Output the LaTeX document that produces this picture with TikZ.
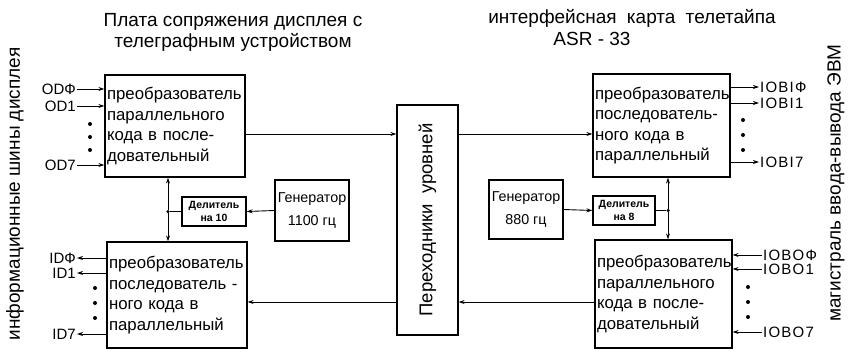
\documentclass[tikz,border=0pt]{standalone}
\usepackage{fontspec}
\setmainfont{Liberation Sans}
\usetikzlibrary{arrows.meta}
\begin{document}
\begin{tikzpicture}[x=1pt,y=-1pt,
  blk/.style={draw,line width=1.2pt,inner sep=1pt},
  conv/.style={blk,align=left,font=\fontsize{16.8}{20.5}\selectfont},
  gen/.style={blk,align=center,font=\fontsize{14.3}{23}\selectfont},
  divb/.style={blk,align=center,font=\bfseries\fontsize{10.5}{13}\selectfont},
  conn/.style={line width=0.9pt},
  arr/.style={conn,-{Stealth[length=6pt,width=4pt]}},
  bdot/.style={circle,fill,inner sep=0pt,minimum size=4pt},
  jdot/.style={circle,fill,inner sep=0pt,minimum size=3.5pt},
  sig/.style={font=\fontsize{15}{15}\selectfont,inner sep=1pt},
  sigr/.style={font=\fontsize{15}{15}\selectfont\addfontfeatures{LetterSpace=8},inner sep=1pt},
  ttl/.style={font=\fontsize{19}{21}\selectfont,align=center,inner sep=0pt},
  vtxt/.style={rotate=90,font=\fontsize{19}{19}\selectfont,inner sep=0pt}]
\useasboundingbox (0,0) rectangle (852,351);

% titles
\node[ttl] (t1) at (233,32) {Плата сопряжения дисплея с\\телеграфным устройством};
\node[ttl] (t2) at (632,18) {интерфейсная\hspace{5pt} карта\hspace{5pt} телетайпа};
\node[ttl] (t3) at (592,39) {ASR - 33};

% side texts
\node[vtxt] (lv) at (15,194) {информационные шины дисплея};
\node[vtxt] (rv) at (836,183) {магистраль ввода-вывода ЭВМ};

% main blocks
\node[conv,minimum width=140pt,minimum height=102pt,text width=136pt] (tl) at (175,126)
  {преобразователь\\параллельного\\кода в после-\\довательный};
\node[conv,minimum width=140pt,minimum height=106pt,text width=136pt] (bl) at (177,295)
  {преобразователь\\последователь -\\ного кода в\\параллельный};
\node[conv,minimum width=137pt,minimum height=103pt,text width=133pt] (tr) at (661.5,125.5)
  {преобразователь\\последователь-\\ного кода в\\параллельный};
\node[conv,minimum width=137pt,minimum height=108pt,text width=133pt] (br) at (663.5,294)
  {преобразователь\\параллельного\\кода в после-\\довательный};
\node[blk,minimum width=61pt,minimum height=230pt] (pr) at (427.5,220)
  {\fontsize{18.5}{18.5}\selectfont\rotatebox{90}{Переходники\hspace{10pt}уровней}};

\node[divb,minimum width=64pt,minimum height=29pt] (d10) at (214,211.5) {Делитель\\на 10};
\node[gen,minimum width=74pt,minimum height=61pt] (g1) at (312,210.5) {Генератор\\1100 гц};
\node[gen,minimum width=74pt,minimum height=59pt] (g2) at (526,209.5) {Генератор\\880 гц};
\node[divb,minimum width=62pt,minimum height=29pt] (d8) at (624,210.5) {Делитель\\на 8};

% junctions
\node[jdot] (jl) at (168,211.5) {};
\node[jdot] (jr) at (668,210.5) {};

% level coordinates
\coordinate (yu) at (0,134);
\coordinate (yd) at (0,302);

% data path
\draw[arr] (tl.east |- yu) -- (pr.west |- yu);
\draw[arr] (pr.east |- yu) -- (tr.west |- yu);
\draw[arr] (br.west |- yd) -- (pr.east |- yd);
\draw[arr] (pr.west |- yd) -- (bl.east |- yd);

% clocks
\draw[arr] (g1.west) -- (d10.east);
\draw[conn] (d10.west) -- (jl);
\draw[arr] (jl) -- (jl |- tl.south);
\draw[arr] (jl) -- (jl |- bl.north);
\draw[arr] (g2.east) -- (d8.west);
\draw[conn] (d8.east) -- (jr);
\draw[arr] (jr) -- (jr |- tr.south);
\draw[arr] (jr) -- (jr |- br.north);

% left top signals
\node[sig,anchor=east] (od0) at (77,89) {ODФ};
\node[sig,anchor=east] (od1) at (77,106) {OD1};
\node[sig,anchor=east] (od7) at (77,165) {OD7};
\foreach \s in {od0,od1,od7} \draw[arr] (\s.east) -- (\s.east -| tl.west);
\node[bdot] (ld1) at (90,124) {};
\node[bdot] (ld2) at (90,137) {};
\node[bdot] (ld3) at (90,150) {};

% left bottom signals
\node[sig,anchor=east] (id0) at (77,258) {IDФ};
\node[sig,anchor=east] (id1) at (77,273) {ID1};
\node[sig,anchor=east] (id7) at (77,334) {ID7};
\foreach \s in {id0,id1,id7} \draw[arr] (\s.east -| bl.west) -- (\s.east);
\node[bdot] (ld4) at (95,288) {};
\node[bdot] (ld5) at (95,303) {};
\node[bdot] (ld6) at (95,318) {};

% right top signals
\node[sigr,anchor=west] (ib0) at (759,87) {IOBIФ};
\node[sigr,anchor=west] (ib1) at (759,103) {IOBI1};
\node[sigr,anchor=west] (ib7) at (759,162) {IOBI7};
\foreach \s in {ib0,ib1,ib7} \draw[arr] (\s.west -| tr.east) -- (\s.west);
\node[bdot] (rd1) at (743,120) {};
\node[bdot] (rd2) at (743,135) {};
\node[bdot] (rd3) at (743,150) {};

% right bottom signals
\node[sigr,anchor=west] (io0) at (762,255) {IOBOФ};
\node[sigr,anchor=west] (io1) at (762,269) {IOBO1};
\node[sigr,anchor=west] (io7) at (762,332) {IOBO7};
\foreach \s in {io0,io1,io7} \draw[arr] (\s.west) -- (\s.west -| br.east);
\node[bdot] (rd4) at (748,287) {};
\node[bdot] (rd5) at (748,302) {};
\node[bdot] (rd6) at (748,317) {};
\end{tikzpicture}
\end{document}
